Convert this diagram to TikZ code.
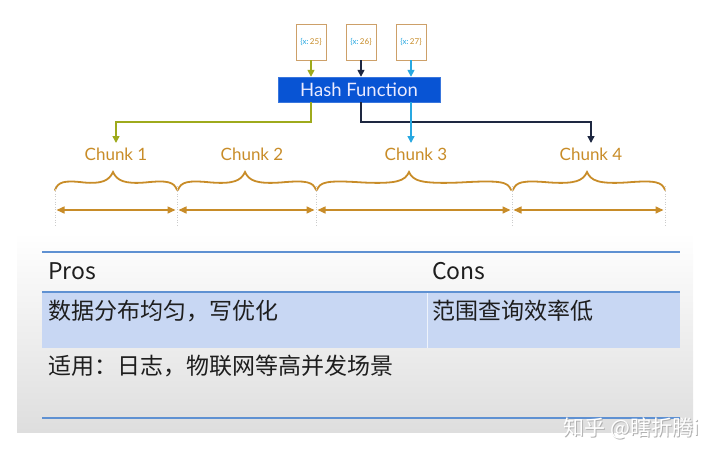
\documentclass[tikz,border=0pt]{standalone}
\usepackage{fontspec}
\setmainfont{Lato}
\newfontfamily\cjk{Noto Sans CJK SC}
\usetikzlibrary{arrows.meta}

\definecolor{keyolive}{RGB}{158,170,28}
\definecolor{keynavy}{RGB}{30,40,65}
\definecolor{keysky}{RGB}{40,168,225}
\definecolor{hashblue}{RGB}{8,84,212}
\definecolor{chunkbrown}{RGB}{200,140,40}
\definecolor{keyframe}{RGB}{205,160,105}
\definecolor{rulerblue}{RGB}{95,145,210}
\definecolor{bandblue}{RGB}{200,215,243}
\definecolor{tabletext}{RGB}{30,30,30}

\tikzset{
  keybox/.style={draw=keyframe, fill=white, minimum width=30pt, minimum height=36pt,
    inner sep=0pt, font=\fontsize{8}{8}\selectfont},
  hashbox/.style={draw=hashblue!80!white, fill=hashblue, text=white!92!blue,
    minimum width=162pt, minimum height=25pt, inner sep=0pt,
    font=\fontsize{18.5}{18.5}\selectfont},
  chunklabel/.style={text=chunkbrown, anchor=north, inner sep=5pt,
    font=\fontsize{17}{17}\selectfont},
  feed/.style={line width=1.5pt, -{Triangle[width=7pt,length=7pt]}},
  bracestyle/.style={draw=chunkbrown, line width=1.8pt, line cap=round},
  span/.style={draw=chunkbrown, line width=1.5pt,
    {Triangle[width=7pt,length=8pt]}-{Triangle[width=7pt,length=8pt]}},
  rule/.style={draw=rulerblue, line width=1.6pt},
  cell/.style={anchor=west, text=tabletext, inner sep=0pt,
    font=\cjk\fontsize{23}{23}\selectfont},
}

% chaveta ondulada: inicio, pico, fim
\newcommand{\chunkbrace}[3]{%
  \pgfmathsetmacro{\ml}{(#1+#2)/2}%
  \pgfmathsetmacro{\mr}{(#2+#3)/2}%
  \draw[bracestyle] (#1,190) .. controls (#1+3,182) and (#1+9,180) .. (\ml,182.5)
    .. controls (#2-12,184) and (#2-4,181) .. (#2,172)
    .. controls (#2+4,181) and (#2+12,184) .. (\mr,182.5)
    .. controls (#3-9,180) and (#3-3,182) .. (#3,190);}

\begin{document}
\begin{tikzpicture}[x=1pt, y=-1pt]
    \useasboundingbox (0,0) rectangle (720,455);

    % Fundo cinzento da tabela.
    \shade[top color=white, bottom color={rgb,255:red,222;green,222;blue,222}]
      (17,232) rectangle (693,432);

    % Chaves de entrada.
    \node[keybox] (k25) at (311,42) {\textcolor{keysky}{\{x:}\,\textcolor{chunkbrown}{25\}}};
    \node[keybox] (k26) at (361,42) {\textcolor{keysky}{\{x:}\,\textcolor{chunkbrown}{26\}}};
    \node[keybox] (k27) at (411,42) {\textcolor{keysky}{\{x:}\,\textcolor{chunkbrown}{27\}}};

    % Funcao de hash.
    \node[hashbox] (hash) at (359,89.5) {Hash Function};

    \draw[feed, keyolive] (k25.south) -- (k25.south |- hash.north);
    \draw[feed, keynavy] (k26.south) -- (k26.south |- hash.north);
    \draw[feed, keysky] (k27.south) -- (k27.south |- hash.north);

    % Rotulos dos chunks.
    \node[chunklabel] (c1) at (116,143) {Chunk 1};
    \node[chunklabel] (c2) at (252,143) {Chunk 2};
    \node[chunklabel] (c3) at (416,143) {Chunk 3};
    \node[chunklabel] (c4) at (591,143) {Chunk 4};

    % Da funcao de hash para cada chunk.
    \draw[feed, keyolive] (hash.south -| k25.south) -- ++(0,20) -| (c1.north);
    \draw[feed, keynavy] (hash.south -| k26.south) -- ++(0,20) -| (c4.north);
    \draw[feed, keysky] (hash.south -| k27.south) -- (c3.north -| k27.south);

    % Chavetas e intervalos.
    \chunkbrace{55}{113}{177}
    \chunkbrace{178}{245}{316}
    \chunkbrace{317}{409}{511}
    \chunkbrace{513}{587}{665}

    \foreach \x in {55,177,316,512,665} {
      \draw[gray!40, dotted, line width=0.6pt] (\x,186) -- (\x,226);
    }
    \foreach \xa/\xb in {55/177,177/316,316/512,512/665} {
      \draw[span] (\xa+1.5,210) -- (\xb-1.5,210);
    }

    % Tabela de pros e contras.
    \fill[bandblue] (42,292) rectangle (680,348);
    \draw[white!70!bandblue, line width=0.8pt] (427,293) -- (427,348);
    \draw[rule] (42,252) -- (680,252);
    \draw[rule] (42,292) -- (680,292);
    \draw[rule] (42,418) -- (680,418);

    \node[cell] (pros) at (48,271) {Pros};
    \node[cell] (cons) at (432,271) {Cons};
    \node[cell] (prosv) at (48,311) {数据分布均匀，写优化};
    \node[cell] (consv) at (432,311) {范围查询效率低};
    \node[cell] (usage) at (48,366) {适用：日志，物联网等高并发场景};

    % Marca de agua.
    \node[anchor=west, text=gray!60, font=\cjk\fontsize{21}{21}\selectfont]
      (wmshadow) at (561,429) {知乎 @瞎折腾i};
    \node[anchor=west, text=white, font=\cjk\fontsize{21}{21}\selectfont]
      (wm) at (560,428) {知乎 @瞎折腾i};
  \end{tikzpicture}
\end{document}
